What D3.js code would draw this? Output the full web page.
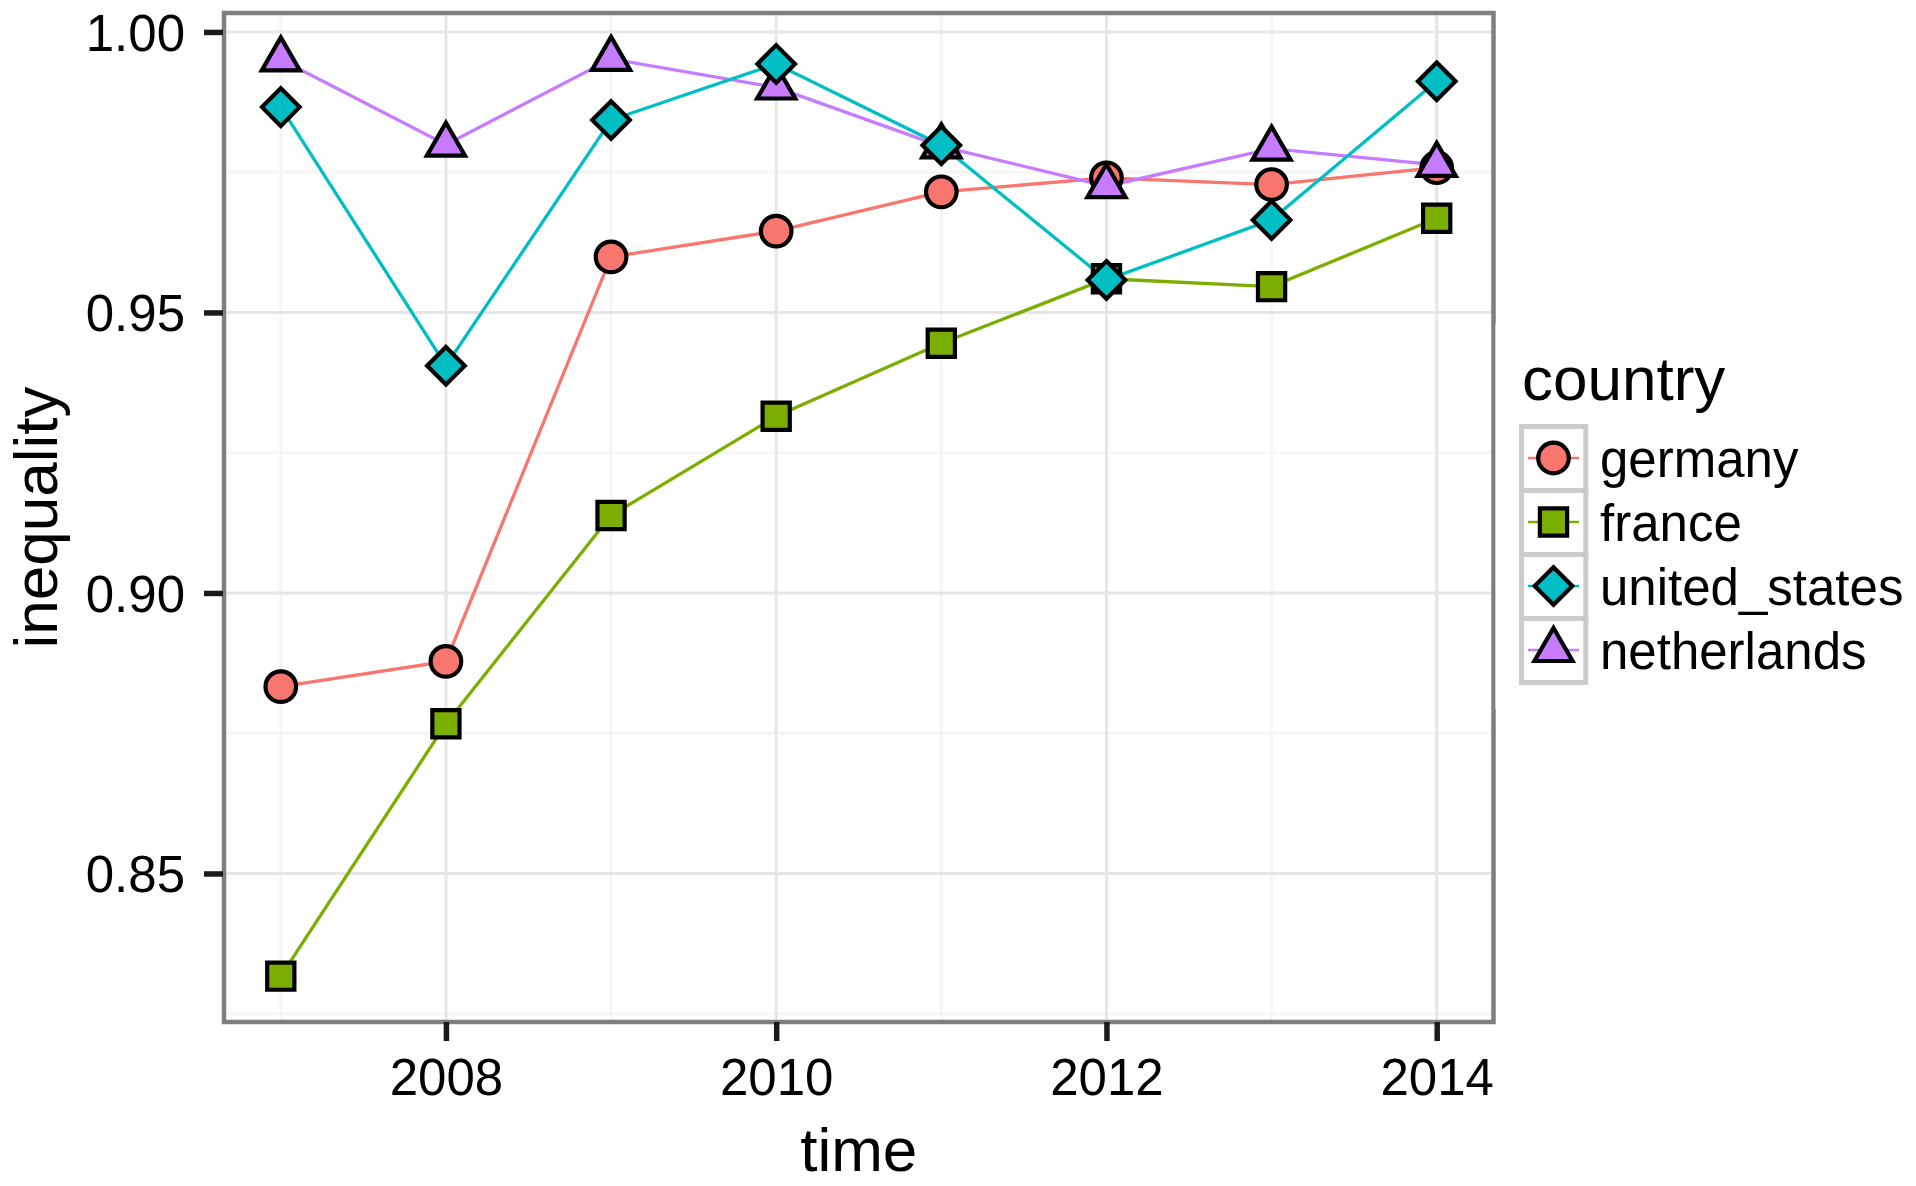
<!DOCTYPE html>
<html lang="en">
	<head>
		<meta charset="utf-8">
		<title>inequality by country</title>
		<script type="text/javascript" src="https://cdn.jsdelivr.net/npm/d3@7"></script>
		<style type="text/css">
			body {
				margin: 0;
				background: #fff;
			}
			text {
				font-family: "Liberation Sans", Arial, Helvetica, sans-serif;
				fill: #000;
			}
		</style>
	</head>
	<body>
		<script type="text/javascript">

			//Width and height
			var w = 1916;
			var h = 1186;

			//data
			var years = [2007, 2008, 2009, 2010, 2011, 2012, 2013, 2014];
			var countries = ["germany", "france", "united_states", "netherlands"];
			var germany = [0.8833, 0.8878, 0.9599, 0.9645, 0.9715, 0.9740, 0.9728, 0.9758];
			var france = [0.8317, 0.8767, 0.9138, 0.9315, 0.9445, 0.9560, 0.9546, 0.9668];
			var unitedStates = [0.9866, 0.9405, 0.9843, 0.9943, 0.9798, 0.9558, 0.9665, 0.9912];
			var netherlands = [0.9951, 0.9799, 0.9952, 0.9901, 0.9796, 0.9725, 0.9792, 0.9763];

			var yTicks = [0.85, 0.90, 0.95, 1.00];
			var yMinor = [0.825, 0.875, 0.925, 0.975];
			var xTicks = [2008, 2010, 2012, 2014];
			var xMinor = [2007, 2009, 2011, 2013];

			var colors = ["#F8766D", "#7CAE00", "#00BFC4", "#C77CFF"];
			var shapes = ["circle", "square", "diamond", "triangle"];

			var seriesValues = [germany, france, unitedStates, netherlands];
			var series = countries.map(function (c, i) {
				return {
					name: c,
					color: colors[i],
					shape: shapes[i],
					values: years.map(function (yr, j) { return { year: yr, value: seriesValues[i][j] }; })
				};
			});
			//points of netherlands come before united_states in the drawing
			var drawOrder = [0, 1, 3, 2];

			//panel
			var panel = { left: 223, right: 1494.5, top: 13, bottom: 1022 };

			//scales, ggplot style 5% expansion
			var allValues = d3.merge(seriesValues);
			var yExt = d3.extent(allValues);
			var yPad = (yExt[1] - yExt[0]) * 0.05;
			var xPad = (years[years.length - 1] - years[0]) * 0.05;

			var x = d3.scaleLinear()
				.domain([years[0] - xPad, years[years.length - 1] + xPad])
				.range([panel.left, panel.right]);
			var y = d3.scaleLinear()
				.domain([yExt[0] - yPad, yExt[1] + yPad])
				.range([panel.bottom, panel.top]);

			var svg = d3.select("body")
				.append("svg")
				.attr("width", w)
				.attr("height", h);

			//grid
			var grid = svg.append("g");
			grid.selectAll("line.yminor").data(yMinor).enter().append("line")
				.attr("x1", panel.left).attr("x2", panel.right)
				.attr("y1", function (d) { return y(d); }).attr("y2", function (d) { return y(d); })
				.attr("stroke", "#f6f6f6").attr("stroke-width", 3);
			grid.selectAll("line.xminor").data(xMinor).enter().append("line")
				.attr("y1", panel.top).attr("y2", panel.bottom)
				.attr("x1", function (d) { return x(d); }).attr("x2", function (d) { return x(d); })
				.attr("stroke", "#f6f6f6").attr("stroke-width", 3);
			grid.selectAll("line.ymajor").data(yTicks).enter().append("line")
				.attr("x1", panel.left).attr("x2", panel.right)
				.attr("y1", function (d) { return y(d); }).attr("y2", function (d) { return y(d); })
				.attr("stroke", "#e6e6e6").attr("stroke-width", 3);
			grid.selectAll("line.xmajor").data(xTicks).enter().append("line")
				.attr("y1", panel.top).attr("y2", panel.bottom)
				.attr("x1", function (d) { return x(d); }).attr("x2", function (d) { return x(d); })
				.attr("stroke", "#e6e6e6").attr("stroke-width", 3);

			//symbol shapes like R's pch 21-24
			var symbolTypes = {
				circle: { draw: function (ctx, r) { ctx.moveTo(r, 0); ctx.arc(0, 0, r, 0, 2 * Math.PI); } },
				square: { draw: function (ctx, r) { ctx.rect(-r, -r, 2 * r, 2 * r); } },
				diamond: { draw: function (ctx, r) { ctx.moveTo(0, -r); ctx.lineTo(r, 0); ctx.lineTo(0, r); ctx.lineTo(-r, 0); ctx.closePath(); } },
				triangle: { draw: function (ctx, r) { var s = Math.sqrt(3) / 2 * r; ctx.moveTo(0, -r); ctx.lineTo(s, r / 2); ctx.lineTo(-s, r / 2); ctx.closePath(); } }
			};
			var symbolSize = { circle: 15.3, square: 13.6, diamond: 18.8, triangle: 22 };
			function symbolPath(shape) {
				return d3.symbol().type(symbolTypes[shape]).size(symbolSize[shape])();
			}

			//lines
			var line = d3.line()
				.x(function (d) { return x(d.year); })
				.y(function (d) { return y(d.value); });

			svg.append("g").selectAll("path")
				.data(drawOrder.map(function (i) { return series[i]; }))
				.enter()
				.append("path")
				.attr("d", function (d) { return line(d.values); })
				.attr("fill", "none")
				.attr("stroke", function (d) { return d.color; })
				.attr("stroke-width", 3.3);

			//points
			var pts = svg.append("g");
			drawOrder.forEach(function (i) {
				var s = series[i];
				pts.selectAll(null)
					.data(s.values)
					.enter()
					.append("path")
					.attr("d", symbolPath(s.shape))
					.attr("transform", function (d) { return "translate(" + x(d.year) + "," + y(d.value) + ")"; })
					.attr("fill", s.color)
					.attr("stroke", "#000")
					.attr("stroke-width", 4.2)
					.attr("stroke-linejoin", "miter");
			});

			//panel border
			svg.append("rect")
				.attr("x", panel.left + 1)
				.attr("y", panel.top)
				.attr("width", panel.right - panel.left - 2)
				.attr("height", panel.bottom - panel.top)
				.attr("fill", "none")
				.attr("stroke", "#7f7f7f")
				.attr("stroke-width", 4.5);

			//axes
			var yAxis = svg.append("g")
				.attr("transform", "translate(" + panel.left + ",0)")
				.call(d3.axisLeft(y).tickValues(yTicks).tickFormat(d3.format(".2f")).tickSize(19).tickPadding(19));
			var xAxis = svg.append("g")
				.attr("transform", "translate(0," + panel.bottom + ")")
				.call(d3.axisBottom(x).tickValues(xTicks).tickFormat(d3.format("d")).tickSize(19).tickPadding(17.5));

			[yAxis, xAxis].forEach(function (a) {
				a.select(".domain").remove();
				a.selectAll(".tick line").attr("stroke", "#1a1a1a").attr("stroke-width", 5.5);
				a.selectAll(".tick text").attr("fill", "#000").style("font-size", "51px");
			});
			yAxis.selectAll(".tick text").attr("dy", "0.36em");

			//axis titles
			svg.append("text")
				.text("time")
				.attr("x", (panel.left + panel.right) / 2)
				.attr("y", 1171)
				.attr("text-anchor", "middle")
				.style("font-size", "62px");
			svg.append("text")
				.text("inequality")
				.attr("transform", "translate(57," + (panel.top + panel.bottom) / 2 + ") rotate(-90)")
				.attr("text-anchor", "middle")
				.style("font-size", "62px");

			//legend, its white box covers part of the panel border
			svg.append("rect")
				.attr("x", 1495.5).attr("y", 324)
				.attr("width", w - 1495.5).attr("height", 385)
				.attr("fill", "#fff");

			var legend = svg.append("g");
			legend.append("text")
				.text("country")
				.attr("x", 1522)
				.attr("y", 400)
				.style("font-size", "62px");

			var keyTop = 426;
			var keyH = 64;
			var keyX = 1553.5;
			var keys = legend.selectAll("g.key")
				.data(series)
				.enter()
				.append("g")
				.attr("class", "key")
				.attr("transform", function (d, i) { return "translate(0," + (keyTop + i * keyH) + ")"; });

			keys.append("rect")
				.attr("x", 1521.5).attr("y", 0.5)
				.attr("width", 64.3).attr("height", keyH)
				.attr("fill", "#fff")
				.attr("stroke", "#cccccc")
				.attr("stroke-width", 5);
			keys.append("line")
				.attr("x1", 1528).attr("x2", 1579)
				.attr("y1", keyH / 2).attr("y2", keyH / 2)
				.attr("stroke", function (d) { return d.color; })
				.attr("stroke-width", 2.5);
			keys.append("path")
				.attr("d", function (d) { return symbolPath(d.shape); })
				.attr("transform", "translate(" + keyX + "," + keyH / 2 + ")")
				.attr("fill", function (d) { return d.color; })
				.attr("stroke", "#000")
				.attr("stroke-width", 4.2);
			keys.append("text")
				.text(function (d) { return d.name; })
				.attr("x", 1600)
				.attr("y", keyH / 2 + 18.7)
				.style("font-size", "51px");

		</script>
	</body>
</html>
